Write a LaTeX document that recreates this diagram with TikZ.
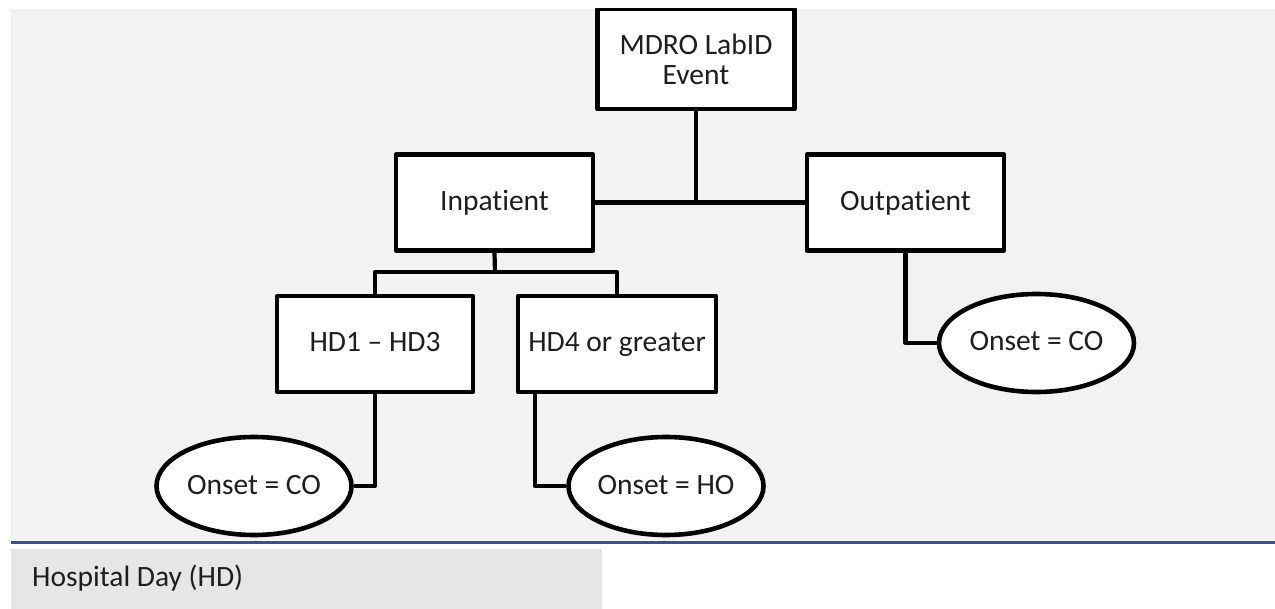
\documentclass[tikz,border=0pt]{standalone}
\usepackage{fontspec}
\setmainfont{Carlito}[Ligatures={NoCommon}]
\usetikzlibrary{shapes.geometric}
\definecolor{bgpanel}{HTML}{F2F2F2}
\definecolor{legendbg}{HTML}{E6E6E6}
\definecolor{rulebl}{HTML}{2F5597}
\definecolor{txt}{HTML}{1E1E1E}
\tikzset{
  boxnode/.style={draw=black, fill=white, line width=4.6pt, line join=round, rectangle,
    minimum width=197pt, minimum height=96pt, inner sep=0pt, align=center,
    text=txt, font=\fontsize{29.5}{30}\selectfont, text height=22pt, text depth=6pt},
  ovalnode/.style={draw=black, fill=white, line width=4.6pt, ellipse,
    minimum width=195pt, minimum height=98pt, inner sep=0pt,
    text=txt, font=\fontsize{29.5}{30}\selectfont, text height=22pt, text depth=6pt},
  link/.style={draw=black, line width=4.2pt, line join=round}
}
\begin{document}
\begin{tikzpicture}[x=1pt,y=-1pt]
\useasboundingbox (0,0) rectangle (1275,609);
% panels
\fill[bgpanel] (11,9) rectangle (1275,540);
\draw[rulebl, line width=3pt] (11,542) -- (1275,542);
\fill[legendbg] (11,549) rectangle (602,609);
\node[anchor=west, text=txt, font=\fontsize{29.5}{30}\selectfont, inner sep=0pt] (legend) at (32,578) {Hospital Day (HD)};
% nodes
\begin{scope}
\clip (0,9) rectangle (1275,609);
\node[boxnode, minimum height=100pt, text height=, text depth=] (mdro) at (696,59) {MDRO LabID\\Event};
\end{scope}
\node[boxnode] (inp) at (494.5,202.5) {Inpatient};
\node[boxnode] (outp) at (905.5,202.5) {Outpatient};
\node[boxnode, minimum width=196pt] (hd1) at (375,344) {HD1 – HD3};
\node[boxnode, minimum width=198pt] (hd4) at (617,344) {HD4 or greater};
\node[ovalnode] (co1) at (254,486) {Onset = CO};
\node[ovalnode] (ho) at (666,486) {Onset = HO};
\node[ovalnode] (co2) at (1036.5,343) {Onset = CO};
% connectors
\coordinate (bus) at (495,272);
\draw[link] (mdro.south) -- (mdro.south |- inp.east);
\draw[link] (inp.east) -- (outp.west);
\draw[link] (inp.south) -- (bus);
\draw[link] (hd1.north) |- (bus) -| (hd4.north);
\draw[link] (hd1.south) |- (co1.east);
\draw[link] ([xshift=19pt]hd4.south west) |- (ho.west);
\draw[link] (outp.south) |- (co2.west);
\end{tikzpicture}
\end{document}
